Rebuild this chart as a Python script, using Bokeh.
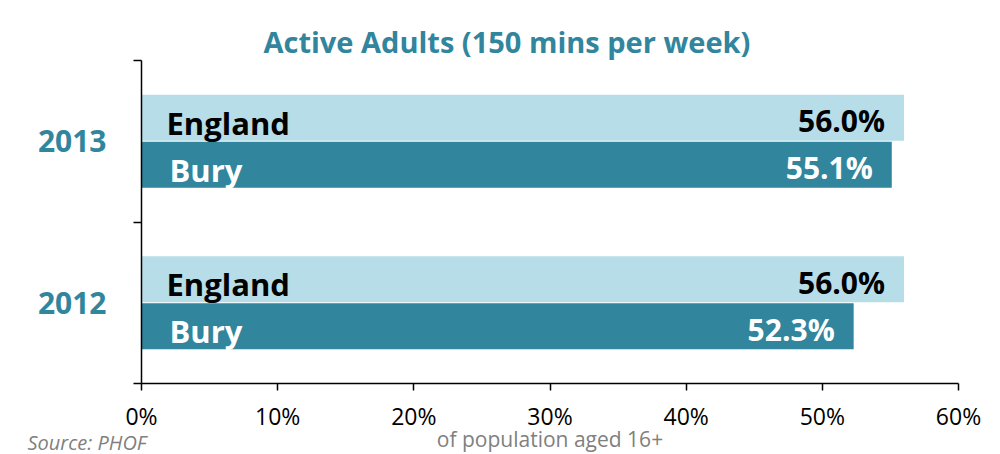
from bokeh.plotting import figure
from bokeh.models import Range1d, FixedTicker, PrintfTickFormatter, Title, ColumnDataSource
from bokeh.core.properties import value
from bokeh.embed import file_html
from bokeh.resources import INLINE

# ---- data ----
years = ["2012", "2013"]
england = [56.0, 56.0]
bury = [52.3, 55.1]
x_ticks = [0, 10, 20, 30, 40, 50, 60]
title_text = "Active Adults (150 mins per week)"
x_title = "of population aged 16+"
source_text = "Source: PHOF"

ENG_COL = "#b7dde8"
BURY_COL = "#31859c"
TEAL = "#31859c"
GREY = "#808080"
FONT = value("Open Sans")

ypos = [i + 0.5 for i in range(len(years))]
off = 0.145
bh = 0.285

eng_src = ColumnDataSource(dict(
    y=[v + off for v in ypos], x=england,
    name=["England"] * len(years),
    lab=[f"{v:.1f}%" for v in england]))
bury_src = ColumnDataSource(dict(
    y=[v - off for v in ypos], x=bury,
    name=["Bury"] * len(years),
    lab=[f"{v:.1f}%" for v in bury]))

p = figure(frame_width=817, frame_height=323,
           x_range=Range1d(0, 60), y_range=Range1d(0, len(years)),
           output_backend="svg", toolbar_location=None,
           min_border_left=141, min_border_top=60,
           min_border_right=42, min_border_bottom=40)
p.xgrid.visible = False
p.ygrid.visible = False
p.outline_line_color = None
p.background_fill_color = "white"
p.border_fill_color = "white"

# main title
p.title.text = title_text
p.title.align = "left"
p.title.offset = 122
p.title.standoff = 0
p.title.text_font = "Open Sans"
p.title.text_font_style = "bold"
p.title.text_font_size = "29px"
p.title.text_color = TEAL

p.hbar(y="y", right="x", left=0, height=bh, source=eng_src,
       fill_color=ENG_COL, line_color=None)
p.hbar(y="y", right="x", left=0, height=bh, source=bury_src,
       fill_color=BURY_COL, line_color=None)

# category names inside bars
p.text(x=0, y="y", text="name", source=eng_src, x_offset=25, y_offset=5,
       text_align="left", text_baseline="middle",
       text_font=FONT, text_font_style="bold", text_font_size="31px",
       text_color="black")
p.text(x=0, y="y", text="name", source=bury_src, x_offset=28, y_offset=5,
       text_align="left", text_baseline="middle",
       text_font=FONT, text_font_style="bold", text_font_size="31px",
       text_color="white")
# values
p.text(x="x", y="y", text="lab", source=eng_src, x_offset=-19, y_offset=3,
       text_align="right", text_baseline="middle",
       text_font=FONT, text_font_style="bold", text_font_size="30px",
       text_color="black")
p.text(x="x", y="y", text="lab", source=bury_src, x_offset=-19, y_offset=3,
       text_align="right", text_baseline="middle",
       text_font=FONT, text_font_style="bold", text_font_size="30px",
       text_color="white")

# x axis
xa = p.xaxis[0]
xa.ticker = FixedTicker(ticks=x_ticks, minor_ticks=[])
xa.formatter = PrintfTickFormatter(format="%d%%")
xa.axis_line_color = "black"
xa.axis_line_width = 1.5
xa.major_tick_line_color = "black"
xa.major_tick_line_width = 1.5
xa.major_tick_in = 0
xa.major_tick_out = 7
xa.minor_tick_line_color = None
xa.major_label_standoff = 9
xa.major_label_text_font = "Open Sans"
xa.major_label_text_font_size = "23px"
xa.major_label_text_color = "black"
xa.axis_label = x_title
xa.axis_label_standoff = -10
xa.axis_label_text_font = "Open Sans"
xa.axis_label_text_font_style = "normal"
xa.axis_label_text_font_size = "21px"
xa.axis_label_text_color = GREY

# y axis
ya = p.yaxis[0]
ya.ticker = FixedTicker(ticks=ypos, minor_ticks=list(range(len(years) + 1)))
ya.major_label_overrides = {yp: yr for yp, yr in zip(ypos, years)}
ya.axis_line_color = "black"
ya.axis_line_width = 1.5
ya.major_tick_line_color = None
ya.major_tick_in = 0
ya.major_tick_out = 0
ya.minor_tick_line_color = "black"
ya.minor_tick_line_width = 1.5
ya.minor_tick_in = 0
ya.minor_tick_out = 8
ya.major_label_standoff = 27
ya.major_label_text_font = "Open Sans"
ya.major_label_text_font_style = "bold"
ya.major_label_text_font_size = "30px"
ya.major_label_text_color = TEAL

# source note, pulled up beside the axis title
p.add_layout(Title(text=source_text, align="left", offset=-114, standoff=-54,
                   vertical_align="top",
                   text_font="Open Sans", text_font_style="italic",
                   text_font_size="20px", text_color=GREY), "below")

open("out.html", "w").write(file_html(p, INLINE))
